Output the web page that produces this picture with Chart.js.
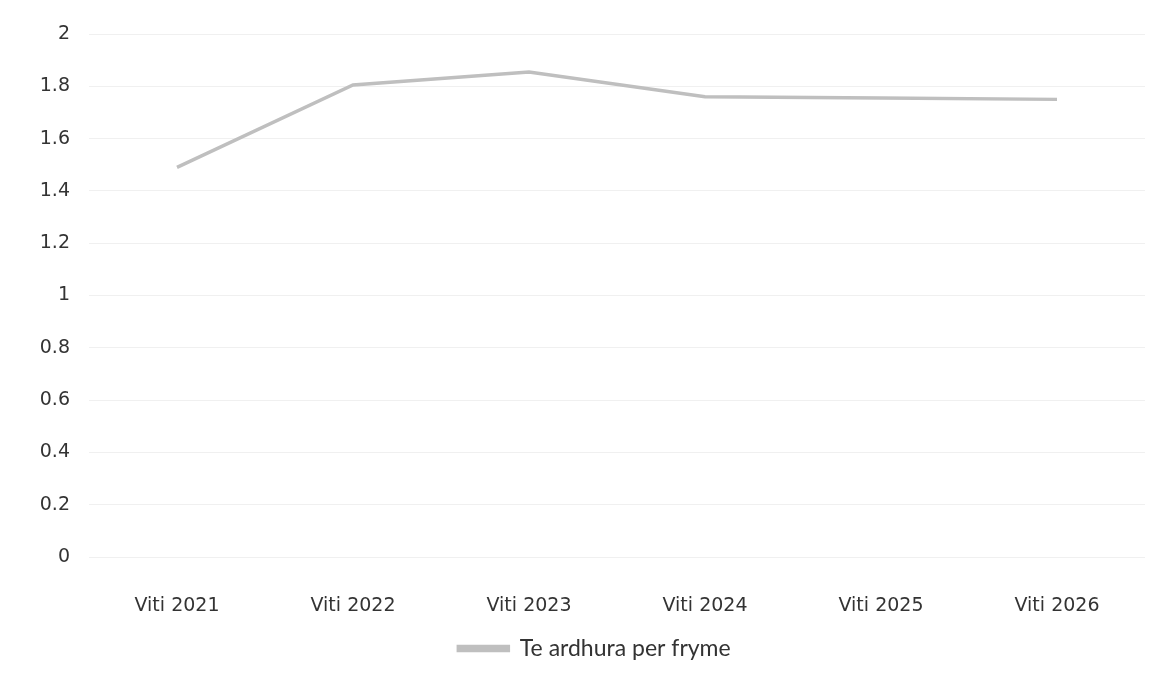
<!DOCTYPE html>
<html>
<head>
<meta charset="utf-8">
<script src="https://cdn.jsdelivr.net/npm/chart.js@4"></script>
<style>
  html, body { margin: 0; padding: 0; background: #ffffff; }
  #wrap { width: 1163px; height: 681px; }
</style>
</head>
<body>
<div id="wrap"><canvas id="grafico"></canvas></div>
<script>
const vitet = ['Viti 2021', 'Viti 2022', 'Viti 2023', 'Viti 2024', 'Viti 2025', 'Viti 2026'];
const ardhuraPerFryme = [1.49, 1.805, 1.855, 1.76, 1.755, 1.75];
const emriSerise = 'Te ardhura per fryme';

const ctx = document.getElementById('grafico').getContext('2d');

// in the original the legend sits a bit right of the canvas centre
const legendaDjathtas = {
  id: 'legendaDjathtas',
  afterLayout(chart) {
    if (chart.legend) {
      chart.legend.left += 22;
      chart.legend.right += 22;
    }
  }
};

new Chart(ctx, {
  type: 'line',
  data: {
    labels: vitet,
    datasets: [{
      label: emriSerise,
      data: ardhuraPerFryme,
      borderColor: '#bfbfbf',
      backgroundColor: '#bfbfbf',
      borderWidth: 3.5,
      pointRadius: 0,
      tension: 0,
      fill: false
    }]
  },
  plugins: [legendaDjathtas],
  options: {
    responsive: true,
    maintainAspectRatio: false,
    animation: false,
    layout: {
      padding: { top: 34, left: 0, right: 18, bottom: 11 }
    },
    plugins: {
      legend: {
        position: 'bottom',
        labels: {
          boxWidth: 50,
          boxHeight: 4,
          padding: 8,
          color: '#333333',
          font: { family: 'Lato', size: 23 }
        }
      },
      tooltip: { enabled: false }
    },
    scales: {
      x: {
        offset: true,
        grid: { display: false, drawTicks: false },
        border: { display: false },
        afterFit: function(scale) { scale.height = 72; },
        ticks: {
          padding: 38,
          color: '#333333',
          font: { family: 'DejaVu Sans', size: 19 }
        }
      },
      y: {
        min: 0,
        max: 2,
        grid: { color: '#f0f0f0', drawTicks: false },
        border: { display: false },
        afterFit: function(scale) { scale.width = 89; },
        ticks: {
          stepSize: 0.2,
          padding: 19,
          color: '#333333',
          font: { family: 'DejaVu Sans', size: 19 },
          callback: function(value) {
            return Math.round(value * 10) / 10;
          }
        }
      }
    }
  }
});
</script>
</body>
</html>
